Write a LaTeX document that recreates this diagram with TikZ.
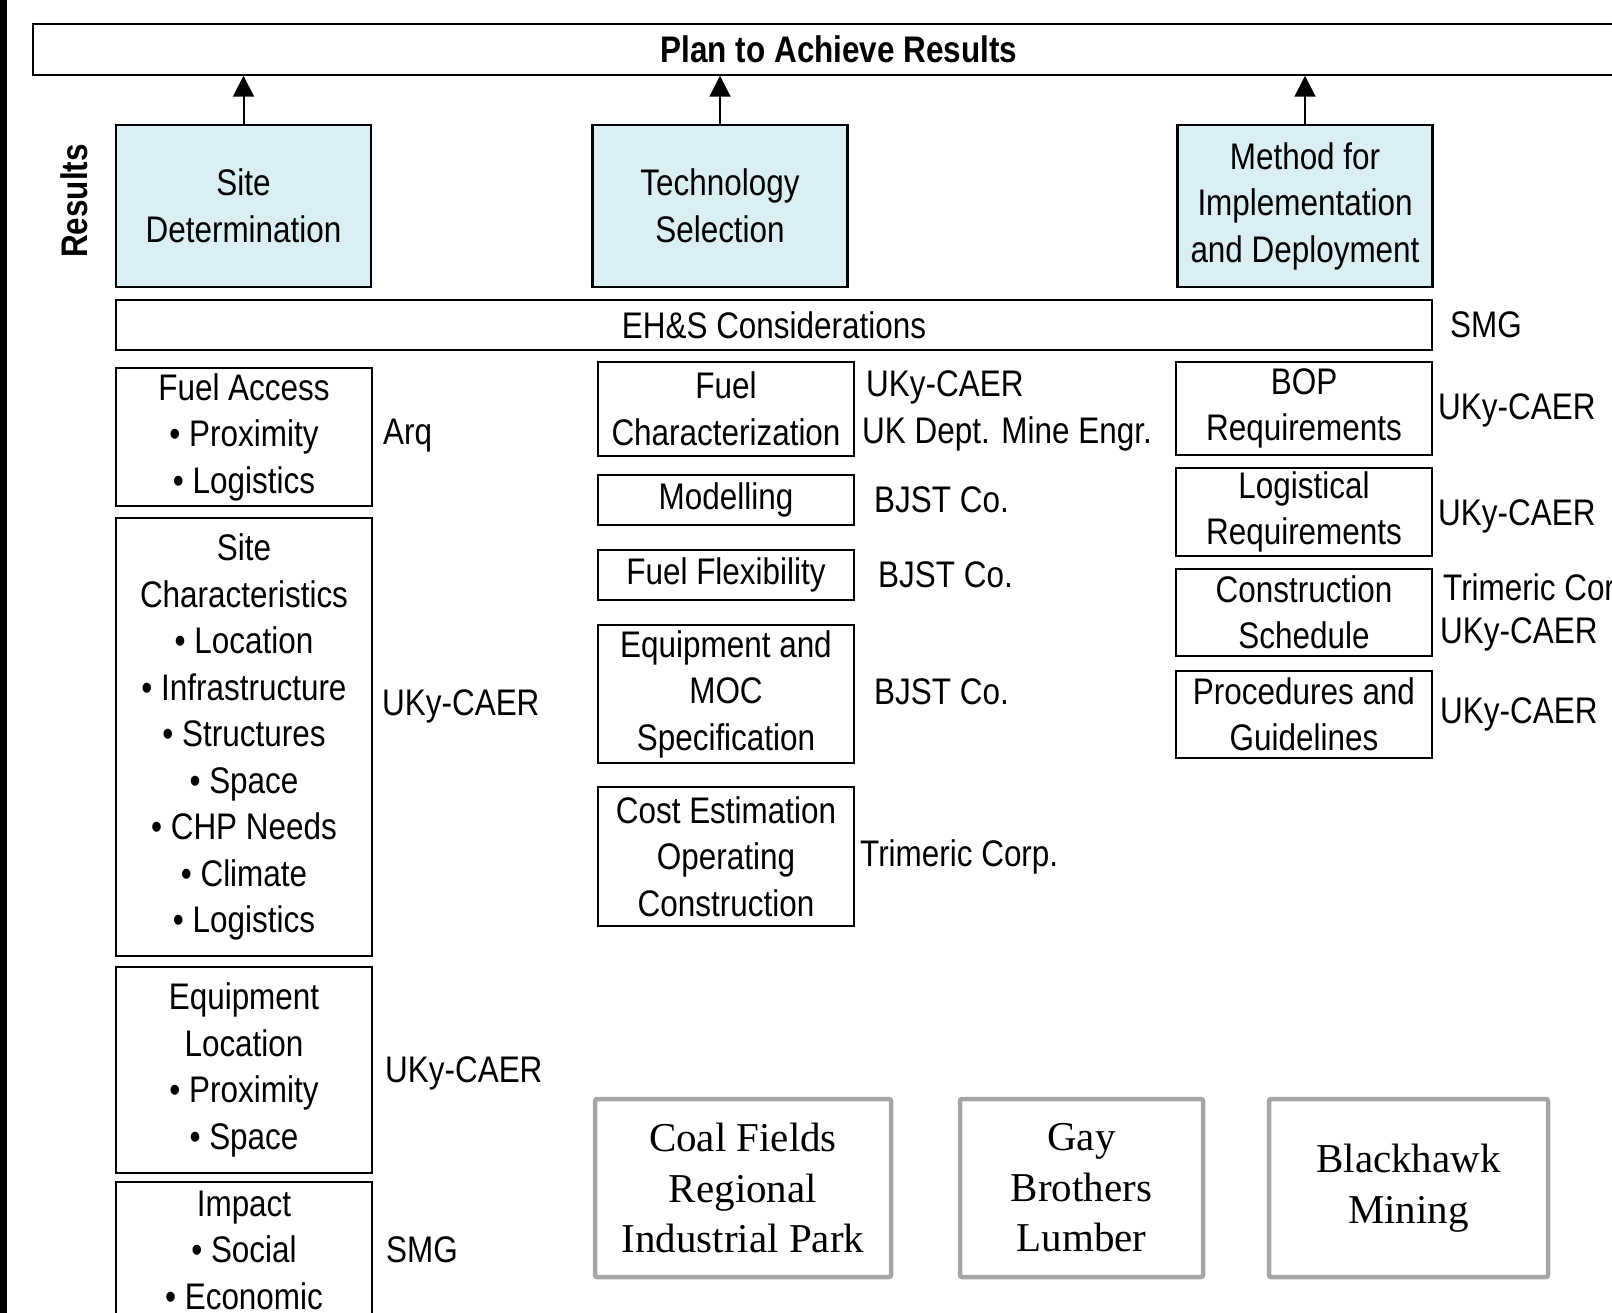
\documentclass[tikz,border=0pt]{standalone}
\usepackage{fontspec}
\newfontfamily\narrowsans{Liberation Sans}[FakeStretch=0.85]
\newfontfamily\siteserif{Liberation Serif}
\usetikzlibrary{arrows.meta, positioning, calc}

\definecolor{resultblue}{HTML}{DBEEF3}
\definecolor{sitegray}{HTML}{A6A6A6}

\begin{document}
\begin{tikzpicture}[
    x=1pt, y=-1pt,
    plan_box/.style={rectangle, draw=black, line width=1.5pt, minimum width=1612pt, minimum height=51pt, inner sep=0pt, font=\narrowsans\bfseries\fontsize{37}{46.5}\selectfont},
    result_box/.style={rectangle, draw=black, line width=2.5pt, fill=resultblue, minimum width=255pt, minimum height=162pt, inner sep=0pt, align=center, font=\narrowsans\fontsize{37}{46.5}\selectfont},
    task_box/.style={rectangle, draw=black, line width=1.5pt, minimum width=256pt, inner sep=0pt, align=center, font=\narrowsans\fontsize{37}{46.5}\selectfont},
    org_label/.style={anchor=base west, inner sep=0pt, font=\narrowsans\fontsize{37}{46.5}\selectfont},
    side_title/.style={rotate=90, anchor=base, inner sep=0pt, font=\narrowsans\bfseries\fontsize{37}{46.5}\selectfont},
    site_box/.style={rectangle, draw=sitegray, line width=4.5pt, rounded corners=2pt, minimum height=178pt, inner sep=0pt, align=center, font=\siteserif\fontsize{41}{50.5}\selectfont},
    arrow/.style={-{Triangle[width=21pt, length=21pt]}, line width=2pt}
]
    \useasboundingbox (0,0) rectangle (1612,1313);
    \clip (0,0) rectangle (1612,1313);
    \fill[black] (0,0) rectangle (7,1313);

    % ========== TOP: Plan and Results ==========
    \node[plan_box] (plan) at (839,49.5) {Plan to Achieve Results};

    \node[result_box] (site_det) at (243.5,206) {Site\\Determination};
    \node[result_box] (tech_sel) at (720,206) {Technology\\Selection};
    \node[result_box] (method) at (1305,206) {Method for\\Implementation\\and Deployment};

    \foreach \res in {site_det, tech_sel, method}
        \draw[arrow] (\res.north) -- (\res.north |- plan.south);

    \node[side_title] (results_lbl) at (87,201) {Results};

    % EH&S bar
    \node[task_box, minimum width=1316pt, minimum height=50pt] (ehs) at (774,325) {EH\&S Considerations};
    \node[org_label] (ehs_org) at (1450,338) {SMG};

    % ========== LEFT: Site Determination tasks ==========
    \node[task_box, minimum height=138pt] (fuel_access) at (244,437) {Fuel Access\\\textbullet{} Proximity\\\textbullet{} Logistics};
    \node[task_box, minimum height=438pt] (site_char) at (244,737) {Site\\Characteristics\\\textbullet{} Location\\\textbullet{} Infrastructure\\\textbullet{} Structures\\\textbullet{} Space\\\textbullet{} CHP Needs\\\textbullet{} Climate\\\textbullet{} Logistics};
    \node[task_box, minimum height=206pt] (equip_loc) at (244,1070) {Equipment\\Location\\\textbullet{} Proximity\\\textbullet{} Space};
    \node[task_box, minimum height=136pt] (impact) at (244,1250) {Impact\\\textbullet{} Social\\\textbullet{} Economic};

    \node[org_label] (fuel_access_org) at (383,445) {Arq};
    \node[org_label] (site_char_org) at (382,715) {UKy-CAER};
    \node[org_label] (equip_loc_org) at (385,1082) {UKy-CAER};
    \node[org_label] (impact_org) at (386,1262) {SMG};

    % ========== MIDDLE: Technology Selection tasks ==========
    \node[task_box, minimum height=94pt] (fuel_char) at (726,409) {Fuel\\Characterization};
    \node[task_box, minimum height=50pt] (modelling) at (726,500) {Modelling};
    \node[task_box, minimum height=50pt] (fuel_flex) at (726,575) {Fuel Flexibility};
    \node[task_box, minimum height=138pt] (equip_moc) at (726,694) {Equipment and\\MOC\\Specification};
    \node[task_box, minimum height=139pt] (cost_est) at (726,856.5) {Cost Estimation\\Operating\\Construction};

    \node[org_label] (fuel_char_org) at (866,397) {UKy-CAER};
    \node[org_label] (fuel_char_org2) at (862,443) {UK Dept. Mine Engr.};
    \node[org_label] (modelling_org) at (874,512) {BJST Co.};
    \node[org_label] (fuel_flex_org) at (878,587) {BJST Co.};
    \node[org_label] (equip_moc_org) at (874,704) {BJST Co.};
    \node[org_label] (cost_est_org) at (860,866) {Trimeric Corp.};

    % ========== RIGHT: Implementation tasks ==========
    \node[task_box, minimum height=93pt] (bop) at (1304,408.5) {BOP\\Requirements};
    \node[task_box, minimum height=88pt] (logistical) at (1304,512) {Logistical\\Requirements};
    \node[task_box, minimum height=87pt] (construction) at (1304,612.5) {Construction\\Schedule};
    \node[task_box, minimum height=87pt] (procedures) at (1304,714.5) {Procedures and\\Guidelines};

    \node[org_label] (bop_org) at (1438,420) {UKy-CAER};
    \node[org_label] (logistical_org) at (1438,525) {UKy-CAER};
    \node[org_label] (construction_org) at (1443,600) {Trimeric Corp.};
    \node[org_label] (construction_org2) at (1440,643) {UKy-CAER};
    \node[org_label] (procedures_org) at (1440,723) {UKy-CAER};

    % ========== BOTTOM: candidate sites ==========
    \node[site_box, minimum width=296pt] (coal_fields) at (743,1188) {Coal Fields\\Regional\\Industrial Park};
    \node[site_box, minimum width=243pt] (gay_bros) at (1081.5,1188) {Gay\\Brothers\\Lumber};
    \node[site_box, minimum width=279pt] (blackhawk) at (1408.5,1188) {Blackhawk\\Mining};

\end{tikzpicture}
\end{document}
